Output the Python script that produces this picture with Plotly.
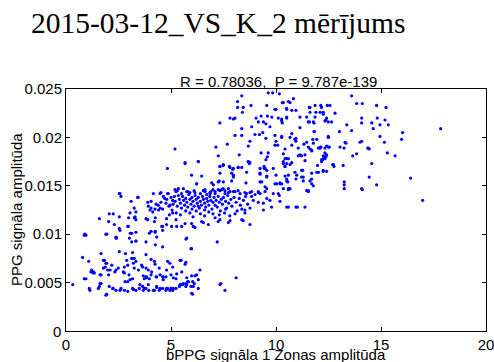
import plotly.graph_objects as go

# ---- data ----
upper_pts = [
    (8.37,0.0243),(9.63,0.0246),(9.84,0.0246),(10.16,0.0245),(8.17,0.0237),(8.81,0.0233),(8.17,0.0231),(8.44,0.0231),
    (8.40,0.0226),(9.56,0.0233),(9.95,0.0229),(10.0,0.0229),(10.30,0.0236),(10.59,0.0237),(10.67,0.0236),(10.83,0.0240),
    (10.50,0.0230),(10.75,0.0228),(10.95,0.0228),(11.62,0.0231),(11.86,0.0233),(12.13,0.0233),(12.44,0.0233),(7.81,0.0220),
    (7.97,0.0219),(8.05,0.0220),(7.33,0.0215),(9.05,0.0220),(9.29,0.0222),(9.16,0.0216),(9.40,0.0216),(9.59,0.0222),
    (9.80,0.0221),(10.11,0.0220),(10.27,0.0217),(10.51,0.0220),(9.71,0.0211),(9.52,0.0214),(8.37,0.0209),(8.84,0.0211),
    (8.05,0.0202),(8.37,0.0202),(9.0,0.0203),(9.21,0.0203),(9.37,0.0205),(9.52,0.0199),(9.95,0.0202),(10.27,0.0200),
    (10.67,0.0200),(10.95,0.0199),(11.14,0.0221),(11.14,0.0210),(11.54,0.0216),(11.81,0.0215),(11.81,0.0206),(12.10,0.0226),
    (12.25,0.0224),(12.41,0.0220),(12.49,0.0216),(8.76,0.0196),(8.68,0.0191),(7.68,0.0193),(7.14,0.0190),(7.25,0.0181),
    (7.49,0.0172),(7.33,0.0170),(8.25,0.0182),(9.29,0.0184),(9.63,0.0184),(9.59,0.0180),(9.52,0.0177),(9.43,0.0170),
    (9.95,0.0192),(10.08,0.0192),(10.0,0.0196),(10.51,0.0178),(10.35,0.0173),(10.43,0.0170),(10.67,0.0172),(10.75,0.0192),
    (10.95,0.0196),(11.06,0.0189),(11.14,0.0182),(11.38,0.0182),(11.54,0.0190),(11.70,0.0187),(11.78,0.0194),(12.02,0.0189),
    (12.14,0.0190),(12.33,0.0189),(12.41,0.0182),(12.33,0.0178),(6.30,0.0175),(5.98,0.0161),(6.46,0.0160),(6.22,0.0152),
    (6.94,0.0153),(7.02,0.0151),(7.25,0.0154),(7.49,0.0154),(7.78,0.0170),(7.94,0.0167),(7.97,0.0161),(8.20,0.0169),
    (8.37,0.0169),(8.68,0.0175),(8.73,0.0173),(9.24,0.0168),(9.48,0.0168),(9.87,0.0168),(9.24,0.0162),(9.56,0.0159),
    (10.0,0.0161),(9.32,0.0154),(10.03,0.0152),(10.19,0.0152),(10.51,0.0157),(10.56,0.0154),(10.90,0.0164),(10.99,0.0161),
    (11.27,0.0166),(11.30,0.0159),(11.62,0.0155),(11.70,0.0152),(12.02,0.0164),(11.98,0.0171),(12.17,0.0175),(12.33,0.0180),
    (12.41,0.0165),(11.46,0.0145),(8.52,0.0143),(8.84,0.0144),(9.16,0.0144),(9.48,0.0144),
    (10.35,0.0236),(10.51,0.0229),(10.27,0.0219),(10.30,0.0215),(10.51,0.0221),(11.59,0.0231),(12.17,0.0231),(11.62,0.0226),
    (11.90,0.0226),(12.25,0.0226),(11.46,0.0221),(11.59,0.0216),(11.78,0.0216),(11.86,0.0221),(12.33,0.0217),(11.83,0.0206),
    (10.75,0.0204),(10.90,0.0198),(10.27,0.0201),(11.33,0.0193),(11.46,0.0195),(11.75,0.0198),(11.94,0.0198),(12.49,0.0200),
    (10.43,0.0188),(10.35,0.0183),(10.59,0.0178),(10.43,0.0178),(10.51,0.0173),(10.75,0.0174),(11.06,0.0181),(11.22,0.0181),
    (11.38,0.0176),(11.70,0.0186),(11.62,0.0188),(12.10,0.0189),(12.49,0.0190),(12.25,0.0181),(12.17,0.0177),(12.73,0.0172),
    (13.05,0.0190),(13.29,0.0195),(14.40,0.0189),(10.43,0.0160),(10.51,0.0155),(10.27,0.0152),(10.59,0.0147),(10.35,0.0147),
    (10.95,0.0157),(11.22,0.0159),(11.22,0.0166),(11.30,0.0155),(11.70,0.0163),(11.70,0.0157),(11.78,0.0150),(11.94,0.0164),
    (12.25,0.0166),(11.54,0.0145),(14.08,0.0147),
]

right_pts = [
    (13.60,0.0243),(13.84,0.0235),(14.11,0.0235),(14.79,0.0233),(15.24,0.0231),(12.57,0.0233),(12.81,0.0225),(14.08,0.0220),
    (14.08,0.0215),(14.56,0.0215),(14.82,0.0220),(14.95,0.0213),(15.19,0.0218),(15.35,0.0213),(14.63,0.0209),(13.37,0.0213),
    (13.60,0.0207),(13.02,0.0206),(12.38,0.0218),(12.65,0.0216),(16.03,0.0205),(15.98,0.0198),(17.84,0.0209),(12.49,0.0201),
    (12.10,0.0190),(12.41,0.0191),(12.54,0.0190),(13.33,0.0194),(13.24,0.0189),(14.0,0.0195),(14.08,0.0196),(14.37,0.0189),
    (14.44,0.0188),(14.95,0.0201),(15.16,0.0195),(15.30,0.0184),(15.67,0.0181),(13.65,0.0181),(13.84,0.0183),(12.33,0.0184),
    (12.38,0.0180),(12.25,0.0178),(12.22,0.0177),(12.70,0.0172),(12.76,0.0170),(13.20,0.0171),(12.25,0.0165),(14.56,0.0173),
    (14.44,0.0159),(14.79,0.0151),(16.41,0.0158),(13.25,0.0154),(13.25,0.0151),(13.25,0.0147),(14.11,0.0146),(16.98,0.0135),
]

band_pts = [
    (5.67,0.0173),(6.30,0.0175),(7.33,0.0170),(7.49,0.0171),(7.81,0.0169),(7.97,0.0168),(8.20,0.0169),(8.68,0.0175),
    (8.76,0.0174),(9.44,0.0168),(9.56,0.0166),(10.43,0.0170),(10.35,0.0175),(7.33,0.0163),(7.89,0.0163),(7.97,0.0159),
    (8.60,0.0164),(9.24,0.0163),(9.56,0.0160),(10.59,0.0161),(6.22,0.0152),(7.30,0.0155),(7.89,0.0155),(8.57,0.0153),
    (9.24,0.0154),(9.48,0.0149),(9.56,0.0147),(9.95,0.0152),(10.19,0.0153),(10.67,0.0147),(5.19,0.0146),(5.35,0.0147),
    (5.59,0.0147),(6.54,0.0145),(6.62,0.0146),(6.86,0.0142),(7.10,0.0142),(7.25,0.0146),(7.49,0.0147),(7.57,0.0142),
    (7.81,0.0144),(7.73,0.0147),(8.05,0.0144),(8.20,0.0145),(8.29,0.0142),(8.60,0.0142),(8.84,0.0139),(9.0,0.0141),
    (9.24,0.0142),(9.56,0.0137),(9.87,0.0142),(10.11,0.0142),(8.92,0.0135),(9.16,0.0133),(9.40,0.0132),(9.71,0.0135),
    (10.19,0.0134),(9.40,0.0125),(8.76,0.0127),(8.52,0.0125),(8.37,0.0115),(8.76,0.0110),(10.51,0.0128),
    (9.79,0.0128),(10.59,0.0128),(10.95,0.0128),(11.02,0.0128),(11.38,0.0128),(8.44,0.0114),(10.16,0.0140),(11.54,0.0144),
    (10.59,0.0146),(8.37,0.0126),(8.52,0.0122),(7.81,0.0114),(7.73,0.0112),(7.33,0.0115),(7.25,0.0113),(6.78,0.0110),
    (6.54,0.0112),(6.46,0.0113),(6.06,0.0108),(6.14,0.0107),(5.98,0.0111),(7.20,0.0092),(5.98,0.0085),
    (5.19,0.0188),(4.83,0.0168),(5.67,0.0174),(2.57,0.0142),(4.16,0.0142),(4.48,0.0142),(4.87,0.0142),(5.75,0.0144),
    (5.90,0.0143),(6.14,0.0143),(6.62,0.0144),(6.86,0.0143),(7.10,0.0144),(7.33,0.0145),(7.41,0.0146),(7.57,0.0145),
    (7.73,0.0143),(7.97,0.0144),(8.76,0.0143),(9.16,0.0143),
    (2.54,0.0142),(2.62,0.0139),(3.41,0.0138),(3.10,0.0134),(4.52,0.0143),(4.84,0.0142),(3.89,0.0133),(4.05,0.0134),
    (4.29,0.0131),(4.52,0.0133),(4.76,0.0132),(5.08,0.0135),(5.16,0.0139),(5.24,0.0144),(3.33,0.0123),(4.05,0.0127),
    (4.13,0.0123),(4.41,0.0125),(4.60,0.0126),(1.59,0.0116),(2.06,0.0121),(2.25,0.0121),(2.54,0.0118),(2.03,0.0113),
    (2.30,0.0110),(2.54,0.0106),(2.57,0.0104),(2.98,0.0117),(3.25,0.0117),(3.33,0.0115),(3.25,0.0127),(2.94,0.0108),
    (3.81,0.0116),(3.89,0.0115),(4.25,0.0117),(4.21,0.0113),(4.05,0.0103),(4.25,0.0103),(4.60,0.0104),(4.60,0.0108),
    (4.79,0.0116),(4.92,0.0120),(5.08,0.0122),(5.24,0.0115),(3.06,0.0101),(3.33,0.0102),(2.38,0.0097),(0.95,0.0099),
    (1.90,0.0100),(3.44,0.0138),(4.63,0.0139),(4.39,0.0130),(3.92,0.0129),(4.00,0.0125),(4.24,0.0126),(4.48,0.0127),
    (4.80,0.0136),(4.95,0.0130),(3.05,0.0122),(3.29,0.0118),(2.97,0.0108),(0.90,0.0100),(1.94,0.0100),(2.41,0.0096),
    (3.13,0.0101),(3.33,0.0093),(3.13,0.0092),(3.81,0.0092),(3.97,0.0101),(4.24,0.0102),(4.32,0.0097),(4.56,0.0108),
    (4.79,0.0110),(5.03,0.0108),(5.27,0.0108),(5.51,0.0108),(5.67,0.0111),(5.75,0.0096),
]

core_pts = [
    (5.0,0.0138),(5.1,0.0131),(5.2,0.0134),(5.3,0.0129),(5.35,0.0140),(5.4,0.0136),(5.45,0.0132),(5.5,0.0127),
    (5.55,0.0139),(5.6,0.0135),(5.65,0.0130),(5.7,0.0137),(5.75,0.0133),(5.8,0.0128),(5.85,0.0141),(5.9,0.0136),
    (5.95,0.0131),(6.0,0.0138),(6.05,0.0134),(6.1,0.0129),(6.15,0.0140),(6.2,0.0136),(6.25,0.0132),(6.3,0.0138),
    (6.35,0.0127),(6.4,0.0134),(6.45,0.0130),(6.5,0.0139),(6.55,0.0136),(6.6,0.0132),(6.65,0.0128),(6.7,0.0137),
    (6.75,0.0134),(6.8,0.0130),(6.85,0.0139),(6.9,0.0135),(6.95,0.0126),(7.0,0.0133),(7.05,0.0138),(7.1,0.0130),
    (7.15,0.0135),(7.2,0.0128),(7.25,0.0139),(7.3,0.0133),(7.35,0.0124),(7.4,0.0136),(7.45,0.0131),(7.5,0.0138),
    (7.6,0.0134),(7.65,0.0127),(7.7,0.0140),(7.75,0.0132),(7.85,0.0136),(7.9,0.0129),(8.0,0.0138),(8.1,0.0133),
    (8.15,0.0124),(8.25,0.0137),(8.3,0.0130),(8.45,0.0135),(8.55,0.0139),(8.65,0.0131),(5.05,0.0125),(5.25,0.0122),
    (5.45,0.0120),(5.7,0.0124),(5.9,0.0122),(6.05,0.0118),(6.2,0.0124),(6.4,0.0121),(6.6,0.0119),(6.8,0.0123),
    (7.0,0.0121),(7.1,0.0117),(7.3,0.0120),(7.55,0.0122),(7.8,0.0119),(8.05,0.0121),(5.5,0.0142),(5.8,0.0144),
    (6.1,0.0145),(6.4,0.0142),(6.7,0.0141),(7.0,0.0146),(6.0,0.0126),(6.3,0.0129),(6.6,0.0125),(7.6,0.0126),
    (4.7,0.0137),(4.9,0.0129),(5.3,0.0145),(6.9,0.0144),
]

lower_pts = [
    (0.32,0.0048),(0.87,0.0099),(2.38,0.0096),(3.02,0.0096),(3.33,0.0093),(4.25,0.0089),(4.60,0.0087),(5.71,0.0095),
    (5.95,0.0085),(0.79,0.0076),(1.08,0.0072),(1.67,0.0080),(1.83,0.0073),(2.54,0.0082),(2.83,0.0080),(3.17,0.0081),
    (3.25,0.0075),(3.33,0.0072),(3.81,0.0079),(4.05,0.0074),(4.21,0.0072),(4.84,0.0072),(5.48,0.0073),(5.71,0.0071),
    (1.19,0.0061),(1.35,0.0060),(1.67,0.0058),(1.90,0.0070),(1.87,0.0066),(1.98,0.0063),(2.03,0.0058),(2.38,0.0063),
    (2.78,0.0066),(2.78,0.0060),(2.94,0.0068),(3.25,0.0065),(3.0,0.0058),(3.17,0.0054),(2.94,0.0051),(3.65,0.0066),
    (3.81,0.0065),(3.81,0.0056),(3.73,0.0054),(3.97,0.0054),(4.05,0.0058),(4.29,0.0056),(4.44,0.0065),(4.60,0.0056),
    (4.76,0.0056),(5.08,0.0066),(5.0,0.0058),(5.24,0.0054),(5.48,0.0048),(5.71,0.0049),(5.79,0.0051),(5.95,0.0046),
    (6.11,0.0049),(0.87,0.0054),(1.11,0.0044),(1.59,0.0046),(1.67,0.0049),(1.90,0.0037),(2.06,0.0046),(2.22,0.0044),
    (2.38,0.0042),(2.62,0.0044),(2.78,0.0042),(2.94,0.0041),(3.17,0.0044),(3.33,0.0042),(3.49,0.0044),(3.65,0.0046),
    (3.73,0.0044),(3.81,0.0044),(3.94,0.0042),(4.21,0.0042),(4.32,0.0045),(4.44,0.0042),(4.60,0.0044),(4.76,0.0042),
    (4.84,0.0044),(5.0,0.0044),(5.08,0.0042),(5.24,0.0044),(5.40,0.0046),(5.56,0.0048),(5.71,0.0046),(6.03,0.0051),
    (0.95,0.0054),(1.14,0.0042),(1.30,0.0060),(1.62,0.0058),(1.54,0.0044),(1.94,0.0038),(1.62,0.0049),(2.25,0.0044),
    (2.57,0.0042),(2.81,0.0051),(3.05,0.0053),(3.21,0.0043),(3.52,0.0048),(3.68,0.0042),(3.84,0.0056),(3.92,0.0048),
    (4.16,0.0042),(4.32,0.0046),(4.48,0.0044),(4.63,0.0056),(4.79,0.0044),(4.95,0.0042),(5.11,0.0044),(5.43,0.0048),
    (5.59,0.0049),(5.75,0.0048),(5.83,0.0051),(6.03,0.0038),(6.14,0.0057),(6.30,0.0044),(7.33,0.0048),(7.57,0.0042),
    (8.10,0.0055),(6.06,0.0046),(5.98,0.0039),(7.37,0.0049),
    (1.30,0.0061),(1.22,0.0063),(1.78,0.0073),(1.94,0.0070),(1.78,0.0065),(2.10,0.0063),(2.18,0.0068),(2.33,0.0061),
    (2.49,0.0065),(2.73,0.0061),(2.89,0.0073),(3.13,0.0075),(3.21,0.0070),(3.45,0.0063),(3.60,0.0068),(3.68,0.0057),
    (3.84,0.0055),(3.92,0.0063),(4.08,0.0061),(4.24,0.0069),(4.32,0.0056),(4.48,0.0058),(4.63,0.0053),(4.79,0.0063),
    (4.95,0.0070),(5.11,0.0055),(5.27,0.0059),(5.43,0.0073),(5.51,0.0061),(5.67,0.0069),(5.75,0.0055),(5.98,0.0057),
    (6.22,0.0058),(6.30,0.0053),(6.38,0.0063),
]

all_pts = upper_pts + right_pts + band_pts + core_pts + lower_pts
x_vals = [p[0] for p in all_pts]
y_vals = [p[1] for p in all_pts]

x_ticks = [0, 5, 10, 15, 20]
y_ticks = [0, 0.005, 0.01, 0.015, 0.02, 0.025]
y_tick_text = ["0", "0.005", "0.01", "0.015", "0.02", "0.025"]

title_text = "2015-03-12_VS_K_2 mērījums"
subtitle_text = "R = 0.78036,  P = 9.787e-139"
x_label = "bPPG signāla 1 Zonas amplitūda"
y_label = "PPG signāla amplitūda"

fig = go.Figure()
fig.add_trace(go.Scatter(
    x=x_vals, y=y_vals, mode="markers",
    marker=dict(color="#0000ff", size=3.2, line=dict(width=0)),
    showlegend=False, hoverinfo="skip",
))

tick_font = dict(family="Liberation Sans, Arial", size=15, color="black")
axis_common = dict(
    showline=True, linecolor="black", linewidth=1, mirror="ticks",
    ticks="inside", ticklen=4, tickcolor="black", tickwidth=1,
    showgrid=False, zeroline=False, ticklabeloverflow="allow",
    tickfont=tick_font,
)

# Plotly drops the y-axis label at the corner, so the "0" of the y axis is drawn as a paper annotation
y_tick_text_axis = [""] + y_tick_text[1:]

fig.update_layout(
    width=494, height=362,
    margin=dict(l=66, r=8, t=89, b=31, autoexpand=False),
    paper_bgcolor="white", plot_bgcolor="white",
    xaxis=dict(range=[0, 20], tickvals=x_ticks, ticktext=[str(t) for t in x_ticks], **axis_common),
    yaxis=dict(range=[0, 0.025], tickvals=y_ticks, ticktext=y_tick_text_axis, **axis_common),
    annotations=[
        dict(text=y_tick_text[0], xref="paper", yref="paper", x=-3 / 420, y=0,
             showarrow=False, xanchor="right", yanchor="middle", font=tick_font),
        dict(text=title_text, xref="paper", yref="paper", x=(29 - 66) / 420, y=(331 - 23) / 242,
             showarrow=False, xanchor="left", yanchor="middle",
             font=dict(family="Liberation Serif, Times New Roman", size=29.5, color="black")),
        dict(text=subtitle_text, xref="paper", yref="paper", x=(278 - 66) / 420, y=(331 - 81) / 242,
             showarrow=False, xanchor="center", yanchor="middle",
             font=dict(family="Liberation Sans, Arial", size=15, color="black")),
        dict(text=x_label, xref="paper", yref="paper", x=0.5, y=(331 - 354) / 242,
             showarrow=False, xanchor="center", yanchor="middle",
             font=dict(family="Liberation Sans, Arial", size=15, color="black")),
        dict(text=y_label, xref="paper", yref="paper", x=(16 - 66) / 420, y=0.5, textangle=-90,
             showarrow=False, xanchor="center", yanchor="middle",
             font=dict(family="Liberation Sans, Arial", size=15, color="black")),
    ],
)

# remove the default 8px page margin so the 494x362 figure fills the window exactly
fig.write_html(
    "out.html",
    config={"displayModeBar": False},
    post_script="document.body.style.margin='0';document.body.style.overflow='hidden';",
)
